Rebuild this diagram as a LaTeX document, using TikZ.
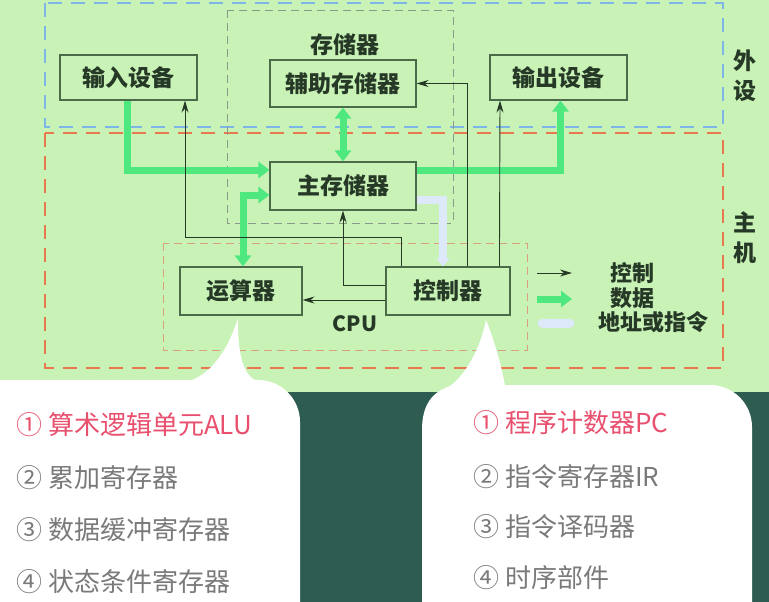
\documentclass[tikz,border=0pt]{standalone}
\usepackage{fontspec}
\setmainfont{Noto Sans CJK SC}
\usetikzlibrary{arrows.meta}
\definecolor{bggreen}{HTML}{C8F2B6}
\definecolor{bgdark}{HTML}{2E5C50}
\definecolor{boxline}{HTML}{4A6A4A}
\definecolor{inktext}{HTML}{263826}
\definecolor{datagreen}{HTML}{4FE87E}
\definecolor{addrblue}{HTML}{DDE8FA}
\definecolor{hostred}{HTML}{E8794F}
\definecolor{periblue}{HTML}{7DB6E6}
\definecolor{memgray}{HTML}{8A9A8A}
\definecolor{cpuorange}{HTML}{D8A080}
\definecolor{notered}{HTML}{E8506E}
\definecolor{notegray}{HTML}{7A7A7A}

\begin{document}
\begin{tikzpicture}[x=1pt,y=-1pt,
  unit/.style={draw=boxline,line width=1.1pt,minimum width=137pt,minimum height=45pt,inner sep=0pt,
    text=inktext,font=\fontsize{23}{23}\selectfont\bfseries},
  tag/.style={inner sep=0pt,text=inktext,font=\fontsize{23}{30}\selectfont\bfseries,align=center},
  legtext/.style={anchor=west,inner sep=0pt,text=inktext,font=\fontsize{22}{22}\selectfont\bfseries},
  noteline/.style={anchor=west,inner sep=0pt,text=notegray,font=\fontsize{26}{26}\selectfont},
  ctrllink/.style={draw=inktext,line width=0.9pt,-{Stealth[length=12pt,width=7pt]}},
  datalink/.style={draw=datagreen,line width=7pt,-{Triangle[length=11pt,width=16pt]}},
  datapair/.style={datalink,{Triangle[length=11pt,width=16pt]}-{Triangle[length=11pt,width=16pt]}},
  addrlink/.style={draw=addrblue,line width=8pt,-{Triangle[length=8pt,width=13pt]}}]
\useasboundingbox (0,0) rectangle (769,602);
\fill[bgdark] (0,0) rectangle (769,602);
\fill[bggreen] (0,0) rectangle (769,392);

\draw[periblue,line width=1.6pt,dash pattern=on 14pt off 9pt] (45,3) rectangle (723,127);
\draw[hostred,line width=1.8pt,dash pattern=on 14pt off 9pt] (45,133) rectangle (723,368);
\draw[memgray,line width=0.9pt,dash pattern=on 8pt off 5pt] (227,10) rectangle (453,223);
\draw[cpuorange,line width=0.9pt,dash pattern=on 8pt off 5pt] (163,243) rectangle (527,350);

\node[unit] (input) at (128.5,77.5) {输入设备};
\node[unit,minimum width=146pt,minimum height=47pt] (aux) at (343,83.5) {辅助存储器};
\node[unit] (output) at (558.5,77.5) {输出设备};
\node[unit,minimum width=146pt,minimum height=48pt] (mem) at (343,186) {主存储器};
\node[unit,minimum width=122pt,minimum height=48pt] (alu) at (241,291) {运算器};
\node[unit,minimum width=124pt,minimum height=48pt] (cu) at (448,291) {控制器};

\node[tag] (memtag) at (345,45) {存储器};
\node[tag,font=\fontsize{21}{21}\selectfont\bfseries] (cputag) at (355,324) {CPU};
\node[tag] (peritag) at (745,76) {外\\设};
\node[tag] (hosttag) at (745,238) {主\\机};

\draw[datalink] ([xshift=-1.5pt]input.south) |- ([yshift=16pt]mem.west);
\draw[datapair] (aux.south) -- (mem.north);
\draw[datalink] ([yshift=16pt]mem.east) -| ([xshift=2pt]output.south);
\draw[datapair] ([yshift=-9pt]mem.west) -| ([xshift=2pt]alu.north);
\draw[addrlink] ([yshift=-14pt]mem.east) -| ([xshift=-5pt]cu.north);

\draw[ctrllink] ([yshift=-9pt]cu.west) -- ([yshift=-9pt]alu.east);
\draw[ctrllink] ([yshift=6pt]cu.west) -| (mem.south);
\draw[ctrllink] ([xshift=16pt]cu.north west) -- ++(0,-29) -| ([xshift=56.5pt]input.south);
\draw[ctrllink] ([xshift=82pt]cu.north west) |- (aux.east);
\draw[ctrllink] ([xshift=114pt]cu.north west) -- ([xshift=-58.5pt]output.south);

\coordinate (legc1) at (537,273);
\coordinate (legc2) at (572,273);
\coordinate (legd1) at (537,299);
\coordinate (legd2) at (572,299);
\coordinate (lega1) at (542,323);
\coordinate (lega2) at (570,323);
\draw[ctrllink] (legc1) -- (legc2);
\draw[datalink] (legd1) -- (legd2);
\draw[addrblue,line width=9pt,line cap=round] (lega1) -- (lega2);
\node[legtext] (legctrl) at (610,273) {控制};
\node[legtext] (legdata) at (610,298) {数据};
\node[legtext] (legaddr) at (598,322) {地址或指令};

\fill[white] (-5,620) -- (-5,380) -- (192,380) .. controls (212,372) and (228,350) .. (238,318)
  .. controls (238,345) and (240,372) .. (255,380) -- (258,380)
  arc[start angle=-90,end angle=0,radius=42] -- (300,620) -- cycle;
\fill[white] (422,620) -- (422,430) .. controls (422,405) and (432,392) .. (450,386)
  .. controls (465,375) and (480,350) .. (486,320) .. controls (494,340) and (500,360) .. (505,385)
  -- (710,385) arc[start angle=-90,end angle=0,radius=42] -- (752,620) -- cycle;

\node[noteline,text=notered] (alunote1) at (16,425) {① 算术逻辑单元ALU};
\node[noteline] (alunote2) at (16,478) {② 累加寄存器};
\node[noteline] (alunote3) at (16,530) {③ 数据缓冲寄存器};
\node[noteline] (alunote4) at (16,582) {④ 状态条件寄存器};
\node[noteline,text=notered] (cunote1) at (473,423) {① 程序计数器PC};
\node[noteline] (cunote2) at (473,477) {② 指令寄存器IR};
\node[noteline] (cunote3) at (473,527) {③ 指令译码器};
\node[noteline] (cunote4) at (473,578) {④ 时序部件};
\end{tikzpicture}
\end{document}
